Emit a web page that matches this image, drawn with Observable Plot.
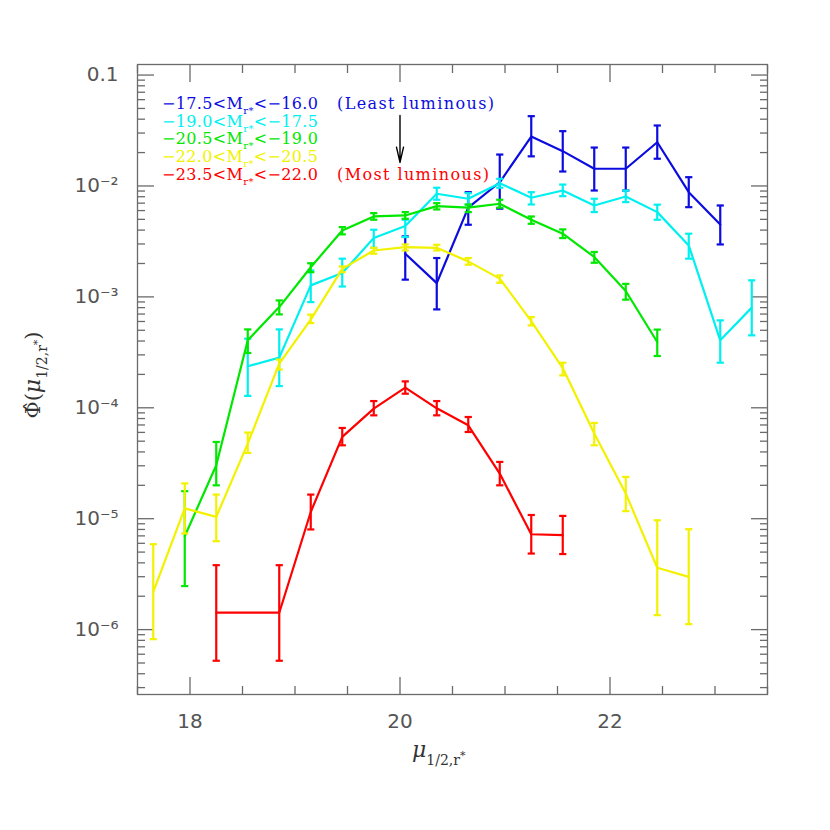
<!DOCTYPE html>
<html><head><meta charset="utf-8">
<script src="https://cdn.jsdelivr.net/npm/d3@7"></script>
<script src="https://cdn.jsdelivr.net/npm/@observablehq/plot@0.6"></script>
<style>body{margin:0;background:#fff}#chart{width:830px;height:830px}</style>
</head><body><div id="chart"></div>
<script>
// ---------- data ----------
const blueX  = [20.05, 20.35, 20.65, 20.95, 21.25, 21.55, 21.85, 22.15, 22.45, 22.75, 23.05];
const blueY  = [2.45e-3, 1.33e-3, 6.37e-3, 1.08e-2, 2.79e-2, 2.06e-2, 1.43e-2, 1.43e-2, 2.48e-2, 8.79e-3, 4.50e-3];
const blueLo = [1.43e-3, 7.71e-4, 4.47e-3, 6.24e-3, 1.85e-2, 1.35e-2, 9.10e-3, 9.10e-3, 1.76e-2, 6.44e-3, 2.97e-3];
const blueHi = [3.51e-3, 2.24e-3, 8.79e-3, 1.92e-2, 4.26e-2, 3.12e-2, 2.22e-2, 2.22e-2, 3.51e-2, 1.20e-2, 6.67e-3];

const cyanX  = [18.55, 18.85, 19.15, 19.45, 19.75, 20.05, 20.35, 20.65, 20.95, 21.25, 21.55, 21.85, 22.15, 22.45, 22.75, 23.05, 23.35];
const cyanY  = [2.37e-4, 2.83e-4, 1.27e-3, 1.64e-3, 3.39e-3, 4.35e-3, 8.51e-3, 7.67e-3, 1.06e-2, 7.83e-3, 9.10e-3, 6.67e-3, 8.04e-3, 5.81e-3, 2.91e-3, 4.06e-4, 8.00e-4];
const cyanLo = [1.28e-4, 1.57e-4, 8.97e-4, 1.24e-3, 2.77e-3, 3.46e-3, 7.51e-3, 6.78e-3, 9.64e-3, 6.81e-3, 8.09e-3, 5.81e-3, 7.15e-3, 4.96e-3, 2.21e-3, 2.55e-4, 4.50e-4];
const cyanHi = [4.20e-4, 5.09e-4, 1.73e-3, 2.21e-3, 4.03e-3, 4.96e-3, 9.64e-3, 8.61e-3, 1.16e-2, 8.79e-3, 1.03e-2, 7.67e-3, 9.10e-3, 6.78e-3, 3.71e-3, 6.14e-4, 1.41e-3];

const greenX  = [17.95, 18.25, 18.55, 18.85, 19.15, 19.45, 19.75, 20.05, 20.35, 20.65, 20.95, 21.25, 21.55, 21.85, 22.15, 22.45];
const greenY  = [6.95e-6, 3.03e-5, 4.06e-4, 8.09e-4, 1.85e-3, 3.97e-3, 5.31e-3, 5.42e-3, 6.58e-3, 6.37e-3, 6.91e-3, 4.96e-3, 3.71e-3, 2.29e-3, 1.13e-3, 3.92e-4];
const greenLo = [2.47e-6, 2.00e-5, 3.12e-4, 6.95e-4, 1.67e-3, 3.66e-3, 4.96e-3, 5.06e-3, 6.14e-3, 5.81e-3, 6.37e-3, 4.56e-3, 3.39e-3, 2.03e-3, 9.44e-4, 2.93e-4];
const greenHi = [1.77e-5, 4.92e-5, 5.09e-4, 9.29e-4, 2.01e-3, 4.26e-3, 5.69e-3, 5.81e-3, 7.00e-3, 6.81e-3, 7.51e-3, 5.31e-3, 4.06e-3, 2.54e-3, 1.31e-3, 5.07e-4];

const yellowX  = [17.65, 17.95, 18.25, 18.55, 18.85, 19.15, 19.45, 19.75, 20.05, 20.35, 20.65, 20.95, 21.25, 21.55, 21.85, 22.15, 22.45, 22.75];
const yellowY  = [2.19e-6, 1.24e-5, 1.04e-5, 4.75e-5, 2.50e-4, 6.24e-4, 1.79e-3, 2.62e-3, 2.81e-3, 2.77e-3, 2.09e-3, 1.46e-3, 6.05e-4, 2.28e-4, 5.86e-5, 1.69e-5, 3.61e-6, 2.99e-6];
const yellowLo = [8.20e-7, 7.36e-6, 6.27e-6, 3.92e-5, 2.21e-4, 5.81e-4, 1.67e-3, 2.45e-3, 2.62e-3, 2.62e-3, 1.95e-3, 1.34e-3, 5.53e-4, 1.96e-4, 4.59e-5, 1.17e-5, 1.35e-6, 1.12e-6];
const yellowHi = [5.89e-6, 2.08e-5, 1.65e-5, 5.98e-5, 2.72e-4, 6.92e-4, 1.88e-3, 2.77e-3, 2.97e-3, 2.95e-3, 2.24e-3, 1.56e-3, 6.58e-4, 2.55e-4, 7.30e-5, 2.38e-5, 9.68e-6, 8.04e-6];

const redX  = [18.25, 18.85, 19.15, 19.45, 19.75, 20.05, 20.35, 20.65, 20.95, 21.25, 21.55];
const redY  = [1.42e-6, 1.42e-6, 1.15e-5, 5.46e-5, 9.84e-5, 1.52e-4, 9.89e-5, 6.95e-5, 2.55e-5, 7.24e-6, 7.10e-6];
const redLo = [5.24e-7, 5.24e-7, 8.00e-6, 4.59e-5, 8.55e-5, 1.34e-4, 8.55e-5, 6.05e-5, 2.00e-5, 4.85e-6, 4.80e-6];
const redHi = [3.81e-6, 3.81e-6, 1.65e-5, 6.58e-5, 1.15e-4, 1.73e-4, 1.15e-4, 8.26e-5, 3.25e-5, 1.08e-5, 1.06e-5];

const legendLow  = ["−17.5", "−19.0", "−20.5", "−22.0", "−23.5"];
const legendHigh = ["−16.0", "−17.5", "−19.0", "−20.5", "−22.0"];
const legendNote = ["(Least luminous)", "", "", "", "(Most luminous)"];

const xTickValues = [18, 20, 22];
const xTickLabels = ["18", "20", "22"];
const yTickValues = [1e-1, 1e-2, 1e-3, 1e-4, 1e-5, 1e-6];
const yTickLabels = ["0.1", "10⁻²", "10⁻³", "10⁻⁴", "10⁻⁵", "10⁻⁶"];

const arrowX = [20];
const arrowFrom = [0.0432];
const arrowTo = [0.0163];

// ---------- styling ----------
const colors = ["#0c0ce0", "#00f0f0", "#00e800", "#f2f200", "#ff0000"];
const series = [
  [blueX, blueY, blueLo, blueHi],
  [cyanX, cyanY, cyanLo, cyanHi],
  [greenX, greenY, greenLo, greenHi],
  [yellowX, yellowY, yellowLo, yellowHi],
  [redX, redY, redLo, redHi]
];
const capSymbol = {draw(ctx, size) { const r = Math.sqrt(size / Math.PI); ctx.moveTo(-r, 0); ctx.lineTo(r, 0); }};

const xMinor = d3.range(17.5, 23.51, 0.5).filter(v => !xTickValues.includes(v));
const yMinor = [];
for (let e = -7; e <= -1; e++) for (let k = 2; k <= 9; k++) { const v = k * Math.pow(10, e); if (v > 2.6e-7 && v < 0.1245) yMinor.push(v); }

const axisColor = "#6a6a6a";
const marks = [
  Plot.frame({stroke: axisColor, strokeWidth: 1.3}),
  Plot.axisX({anchor: "bottom", ticks: xTickValues, tickSize: -17, tickFormat: () => "", label: null, stroke: axisColor, strokeWidth: 1.3}),
  Plot.axisX({anchor: "bottom", ticks: xMinor, tickSize: -8, tickFormat: () => "", label: null, stroke: axisColor, strokeWidth: 1.3}),
  Plot.axisX({anchor: "top", ticks: xTickValues, tickSize: -17, tickFormat: () => "", label: null, stroke: axisColor, strokeWidth: 1.3}),
  Plot.axisX({anchor: "top", ticks: xMinor, tickSize: -8, tickFormat: () => "", label: null, stroke: axisColor, strokeWidth: 1.3}),
  Plot.axisY({anchor: "left", ticks: yTickValues, tickSize: -17, tickFormat: () => "", label: null, stroke: axisColor, strokeWidth: 1.3}),
  Plot.axisY({anchor: "left", ticks: yMinor, tickSize: -8, tickFormat: () => "", label: null, stroke: axisColor, strokeWidth: 1.3}),
  Plot.axisY({anchor: "right", ticks: yTickValues, tickSize: -17, tickFormat: () => "", label: null, stroke: axisColor, strokeWidth: 1.3}),
  Plot.axisY({anchor: "right", ticks: yMinor, tickSize: -8, tickFormat: () => "", label: null, stroke: axisColor, strokeWidth: 1.3}),
  Plot.axisX({anchor: "bottom", ticks: xTickValues, tickSize: 0, tickPadding: 19, tickFormat: d => xTickLabels[xTickValues.indexOf(d)], label: null, fill: "#555", fontSize: 20}),
  Plot.axisY({anchor: "left", ticks: yTickValues, tickSize: 0, tickPadding: 19, tickFormat: d => yTickLabels[yTickValues.indexOf(d)], label: null, fill: "#555", fontSize: 20}),
  Plot.arrow({length: 1}, {x1: () => arrowX[0], x2: () => arrowX[0], y1: () => arrowFrom[0], y2: () => arrowTo[0], stroke: "black", strokeWidth: 1.4, headLength: 20, headAngle: 26})
];
series.forEach(([X, Y, Lo, Hi], s) => {
  const data = X.map((x, i) => ({x, y: Y[i], lo: Lo[i], hi: Hi[i]}));
  const c = colors[s];
  marks.push(
    Plot.ruleX(data, {x: "x", y1: "lo", y2: "hi", stroke: c, strokeWidth: 2.2}),
    Plot.dot(data, {x: "x", y: "lo", symbol: capSymbol, r: 3.6, fill: "none", stroke: c, strokeWidth: 2.2}),
    Plot.dot(data, {x: "x", y: "hi", symbol: capSymbol, r: 3.6, fill: "none", stroke: c, strokeWidth: 2.2}),
    Plot.line(data, {x: "x", y: "y", stroke: c, strokeWidth: 2.2})
  );
});

const plot = Plot.plot({
  width: 830, height: 830,
  marginLeft: 137, marginRight: 63, marginTop: 64, marginBottom: 136,
  x: {domain: [17.5, 23.5]},
  y: {type: "log", domain: [2.6e-7, 0.1245]},
  style: {fontFamily: "DejaVu Sans", background: "white", overflow: "visible"},
  marks
});
document.getElementById("chart").append(plot);

// ---------- text decorations ----------
const svg = d3.select(plot);
const leg = svg.append("g").attr("font-family", "DejaVu Serif").attr("font-size", 16).attr("text-anchor", "start");
legendLow.forEach((lo, i) => {
  const y = 109 + i * 17.7;
  const t = leg.append("text").attr("x", 162).attr("y", y).attr("fill", colors[i]).attr("letter-spacing", 0.35);
  t.append("tspan").text(lo + "<M");
  t.append("tspan").attr("font-size", 10).attr("dy", 5).text("r*");
  t.append("tspan").attr("dy", -5).text("<" + legendHigh[i]);
  if (legendNote[i]) leg.append("text").attr("x", 337).attr("y", y).attr("fill", colors[i]).attr("letter-spacing", 1.4).text(legendNote[i]);
});

const xl = svg.append("text").attr("x", 412).attr("y", 757).attr("text-anchor", "start").attr("font-family", "DejaVu Serif").attr("fill", "#333");
xl.append("tspan").attr("font-size", 22).attr("font-style", "italic").text("μ");
xl.append("tspan").attr("font-size", 14).attr("dy", 8).text("1/2,r");
xl.append("tspan").attr("font-size", 11).attr("dy", -6).text("*");

const yl = svg.append("text").attr("transform", "translate(40,375) rotate(-90)").attr("text-anchor", "middle").attr("font-family", "DejaVu Serif").attr("fill", "#333");
yl.append("tspan").attr("font-size", 21).text("Φ̂(");
yl.append("tspan").attr("font-size", 22).attr("font-style", "italic").text("μ");
yl.append("tspan").attr("font-size", 14).attr("dy", 7).text("1/2,r");
yl.append("tspan").attr("font-size", 11).attr("dy", -6).text("*");
yl.append("tspan").attr("font-size", 21).attr("dy", -1).text(")");
</script>
</body></html>
